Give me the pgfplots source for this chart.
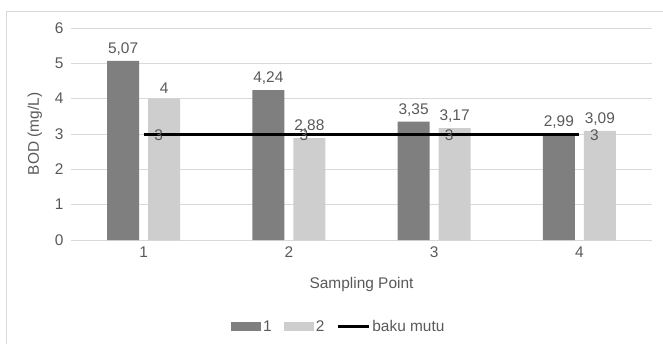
\documentclass[border=0pt]{standalone}
\usepackage{fontspec}
\setmainfont{Liberation Sans}
\usepackage{pgfplots}
\pgfplotsset{compat=1.18}

\definecolor{txt}{HTML}{595959}
\definecolor{barA}{HTML}{7F7F7F}
\definecolor{barB}{HTML}{CFCECE}
\definecolor{gridc}{HTML}{D9D9D9}
\newcommand\chartfont{\fontsize{15.5}{18}\selectfont}

\begin{document}
\begin{tikzpicture}[x=1bp,y=1bp]
\path[use as bounding box] (-71,-104) rectangle (592,240);
% chart frame
\draw[gridc, line width=1bp] (-64,-104) -- (-64,229) -- (592,229);
\begin{axis}[
  at={(0,0)}, anchor=south west,
  scale only axis, width=581bp, height=212bp,
  xmin=0.5, xmax=4.5, ymin=0, ymax=6,
  xtick={1,2,3,4}, ytick={0,1,2,3,4,5,6},
  major tick length=0,
  axis line style={draw=none},
  ymajorgrids, grid style={gridc, line width=1bp},
  /pgf/number format/assume math mode=true,
  /pgf/number format/use comma,
  tick label style={txt, font=\chartfont},
  yticklabel style={xshift=-4bp},
  xticklabel style={yshift=-3bp},
  xlabel={Sampling Point}, ylabel={BOD (mg/L)},
  label style={txt, font=\chartfont},
  xlabel style={at={(axis description cs:0.5,-0.208)}, anchor=center},
  ylabel style={at={(axis description cs:-0.062,0.5)}, anchor=center},
  nodes near coords style={txt, font=\chartfont},
  legend columns=3,
  legend style={at={(axis description cs:0.461,-0.410)}, anchor=center,
    draw=none, fill=none, font=\chartfont, text=txt,
    /tikz/every even column/.append style={column sep=10bp},
    inner sep=0pt, outer sep=0pt},
  legend cell align=left,
]
\addplot[ybar, bar width=32bp, bar shift=-20.5bp, fill=barA, draw=none,
  nodes near coords, every node near coord/.append style={anchor=south, xshift=-20.5bp, yshift=2bp},
  legend image code/.code={\fill[barA] (0bp,-4.5bp) rectangle (30bp,4.5bp);}]
  coordinates {(1,5.07) (2,4.24) (3,3.35) (4,2.99)};
\addlegendentry{1}
\addplot[ybar, bar width=32bp, bar shift=20.5bp, fill=barB, draw=none,
  nodes near coords, every node near coord/.append style={anchor=south, xshift=20.5bp, yshift=2bp},
  legend image code/.code={\fill[barB] (0bp,-4.5bp) rectangle (30bp,4.5bp);}]
  coordinates {(1,4) (2,2.88) (3,3.17) (4,3.09)};
\addlegendentry{2}
\addplot[sharp plot, black, line width=3bp, mark=none,
  nodes near coords, every node near coord/.append style={anchor=west, xshift=6bp, yshift=-1bp},
  legend image code/.code={\draw[black, line width=3bp] (0bp,0bp) -- (31bp,0bp);}]
  coordinates {(1,3) (2,3) (3,3) (4,3)};
\addlegendentry{baku mutu}
\end{axis}
\end{tikzpicture}
\end{document}
